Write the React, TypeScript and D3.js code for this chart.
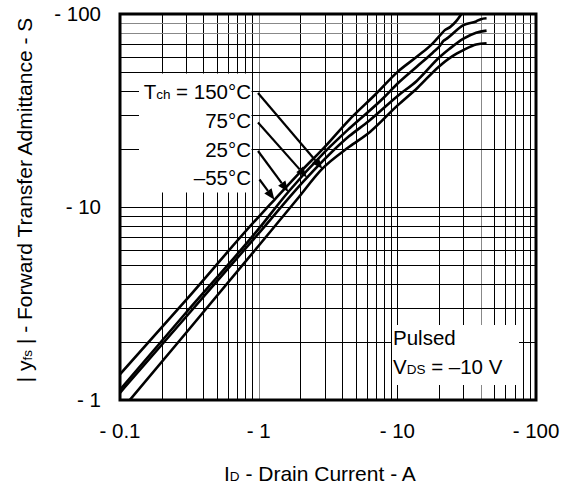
import React from "react";
import * as d3 from "d3";

// ---- data ----
const xTicks = [0.1, 1, 10, 100];
const xTickLabels = ["- 0.1", "- 1", "- 10", "- 100"];
const yTicks = [1, 10, 100];
const yTickLabels = ["- 1", "- 10", "- 100"];

// -55 °C
const idM55 = [0.1, 0.3, 1, 1.3, 2, 3, 4.5, 7, 10, 13.8, 18, 20.3, 22, 24, 26.5, 29];
const yfsM55 = [1.36, 3.3, 8.9, 10.9, 15.2, 20.5, 28.3, 38.5, 50, 60, 70.5, 77.5, 82.5, 85.5, 91.5, 100];
// 25 °C
const id25 = [0.1, 0.3, 1, 1.64, 3, 4.5, 7.9, 10, 13.8, 18, 20.3, 21.5, 23, 30, 37, 40, 44];
const yfs25 = [1.13, 2.84, 7.7, 12.0, 19.3, 25.5, 36.6, 43.5, 53.3, 63, 68.5, 72.5, 75, 87.5, 91.5, 94, 95];
// 75 °C
const id75 = [0.1, 0.3, 1, 2.23, 4.5, 6.2, 10, 13.8, 20.3, 23.8, 30, 37, 44];
const yfs75 = [1.09, 2.7, 7.3, 14.2, 23.3, 27.8, 37.5, 45, 60, 66, 74.5, 80, 82];
// 150 °C
const id150 = [0.1, 0.3, 1, 1.88, 2.88, 4.5, 6.35, 10, 14, 20, 25, 30, 37, 44];
const yfs150 = [0.87, 2.23, 6.3, 10.9, 15.8, 20.5, 24.5, 33.5, 41.5, 53.5, 60.5, 65, 69.5, 70.5];

const seriesLabels = ["Tch = 150°C", "75°C", "25°C", "–55°C"];
const arrowTipCurrents = [2.88, 2.23, 1.636, 1.3];

// ---- layout ----
const W = 566;
const H = 491;
const X0 = 120, X1 = 536, Y0 = 14, Y1 = 400;
const FONT = "'Liberation Sans', Arial, Helvetica, sans-serif";

const xScale = d3.scaleLog().domain([0.1, 100]).range([X0, X1]);
const yScale = d3.scaleLog().domain([1, 100]).range([Y1, Y0]);

function pairs(xs: number[], ys: number[]) {
  return xs.map((x, i) => [x, ys[i]] as [number, number]);
}

const series = [
  pairs(id150, yfs150),
  pairs(id75, yfs75),
  pairs(id25, yfs25),
  pairs(idM55, yfsM55),
];

function interp(pts: [number, number][], x: number) {
  for (let i = 0; i < pts.length - 1; i++) {
    const [xa, ya] = pts[i];
    const [xb, yb] = pts[i + 1];
    if (x >= xa && x <= xb) {
      const t = (Math.log(x) - Math.log(xa)) / (Math.log(xb) - Math.log(xa));
      return Math.exp(Math.log(ya) + t * (Math.log(yb) - Math.log(ya)));
    }
  }
  return pts[pts.length - 1][1];
}

const lineGen = d3
  .line<[number, number]>()
  .x((d) => xScale(d[0]))
  .y((d) => yScale(d[1]))
  .curve(d3.curveMonotoneX);

function minorValues(lo: number, hi: number) {
  const out: number[] = [];
  for (let dec = lo; dec < hi; dec *= 10) {
    for (let k = 1; k <= 9; k++) out.push(dec * k);
  }
  out.push(hi);
  return out;
}

const grayX = [1, 40];
const grayY = [80, 90];

export default function App() {
  const xGrid = minorValues(0.1, 100);
  const yGrid = minorValues(1, 100);

  const labelRight = 251;
  const labelBaselines = [98.5, 128, 156.5, 185];

  return (
    <svg
      width={W}
      height={H}
      style={{ position: "absolute", left: 0, top: 0, background: "#fff" }}
      fontFamily={FONT}
    >
      <defs>
        <clipPath id="plotClip">
          <rect x={X0} y={Y0} width={X1 - X0} height={Y1 - Y0} />
        </clipPath>
      </defs>
      <rect x={0} y={0} width={W} height={H} fill="#fff" />

      {/* grid */}
      <g shapeRendering="crispEdges">
        {xGrid.map((v, i) => {
          const x = Math.round(xScale(v));
          return (
            <line
              key={"gx" + i}
              x1={x}
              x2={x}
              y1={Y0}
              y2={Y1}
              stroke={grayX.some((g) => Math.abs(g - v) < 1e-9) ? "#888" : "#000"}
              strokeWidth={1}
            />
          );
        })}
        {yGrid.map((v, i) => {
          const y = Math.round(yScale(v));
          return (
            <line
              key={"gy" + i}
              x1={X0}
              x2={X1}
              y1={y}
              y2={y}
              stroke={grayY.some((g) => Math.abs(g - v) < 1e-9) ? "#888" : "#000"}
              strokeWidth={1}
            />
          );
        })}
      </g>

      {/* white boxes behind annotations */}
      <rect x={139} y={73.5} width={112.5} height={119} fill="#fff" />
      <rect x={392} y={325} width={127} height={60} fill="#fff" />

      {/* curves */}
      <g clipPath="url(#plotClip)">
        {series.map((s, i) => (
          <path
            key={"s" + i}
            d={lineGen(s) || ""}
            fill="none"
            stroke="#000"
            strokeWidth={2.6}
            strokeLinejoin="round"
          />
        ))}
      </g>

      {/* frame */}
      <rect
        x={X0}
        y={Y0}
        width={X1 - X0}
        height={Y1 - Y0}
        fill="none"
        stroke="#000"
        strokeWidth={3}
      />

      {/* y tick labels */}
      {yTicks.map((v, i) => (
        <text
          key={"yt" + i}
          x={101}
          y={yScale(v) + 7}
          textAnchor="end"
          fontSize={20.5}
          fill="#000"
        >
          {yTickLabels[i]}
        </text>
      ))}
      {/* x tick labels */}
      {xTicks.map((v, i) => (
        <text
          key={"xt" + i}
          x={xScale(v)}
          y={438}
          textAnchor="middle"
          fontSize={20.5}
          fill="#000"
        >
          {xTickLabels[i]}
        </text>
      ))}

      {/* axis titles */}
      <text x={224} y={480.5} fontSize={21} fill="#000">
        I<tspan fontSize={13.5}>D</tspan> - Drain Current - A
      </text>
      <text
        transform="translate(32,200) rotate(-90)"
        textAnchor="middle"
        fontSize={21}
        fill="#000"
      >
        | y<tspan fontSize={13.5}>fs</tspan> | - Forward Transfer Admittance - S
      </text>

      {/* series labels */}
      {seriesLabels.map((lab, i) => (
        <text
          key={"lab" + i}
          x={labelRight}
          y={labelBaselines[i]}
          textAnchor="end"
          fontSize={20.5}
          fill="#000"
        >
          {i === 0 ? (
            <>
              T<tspan fontSize={13.5}>ch</tspan> = 150°C
            </>
          ) : (
            lab
          )}
        </text>
      ))}

      {/* arrows */}
      {arrowTipCurrents.map((c, i) => {
        const sx = labelRight + 7 + (i === 3 ? 1.5 : 0);
        const sy = labelBaselines[i] - 5.5;
        const tx = xScale(c);
        const ty = yScale(interp(series[i], c));
        const ang = Math.atan2(ty - sy, tx - sx);
        const len = 11;
        const hw = 4.5;
        const bx = tx - len * Math.cos(ang);
        const by = ty - len * Math.sin(ang);
        const px = -Math.sin(ang) * hw;
        const py = Math.cos(ang) * hw;
        return (
          <g key={"ar" + i}>
            <line x1={sx} y1={sy} x2={bx} y2={by} stroke="#000" strokeWidth={2.2} />
            <polygon
              points={`${tx},${ty} ${bx + px},${by + py} ${bx - px},${by - py}`}
              fill="#000"
            />
          </g>
        );
      })}

      {/* conditions */}
      <text x={393} y={345} fontSize={20.5} fill="#000">
        Pulsed
      </text>
      <text x={393} y={373.5} fontSize={20.5} fill="#000">
        V<tspan fontSize={13.5}>DS</tspan> = –10 V
      </text>
    </svg>
  );
}
